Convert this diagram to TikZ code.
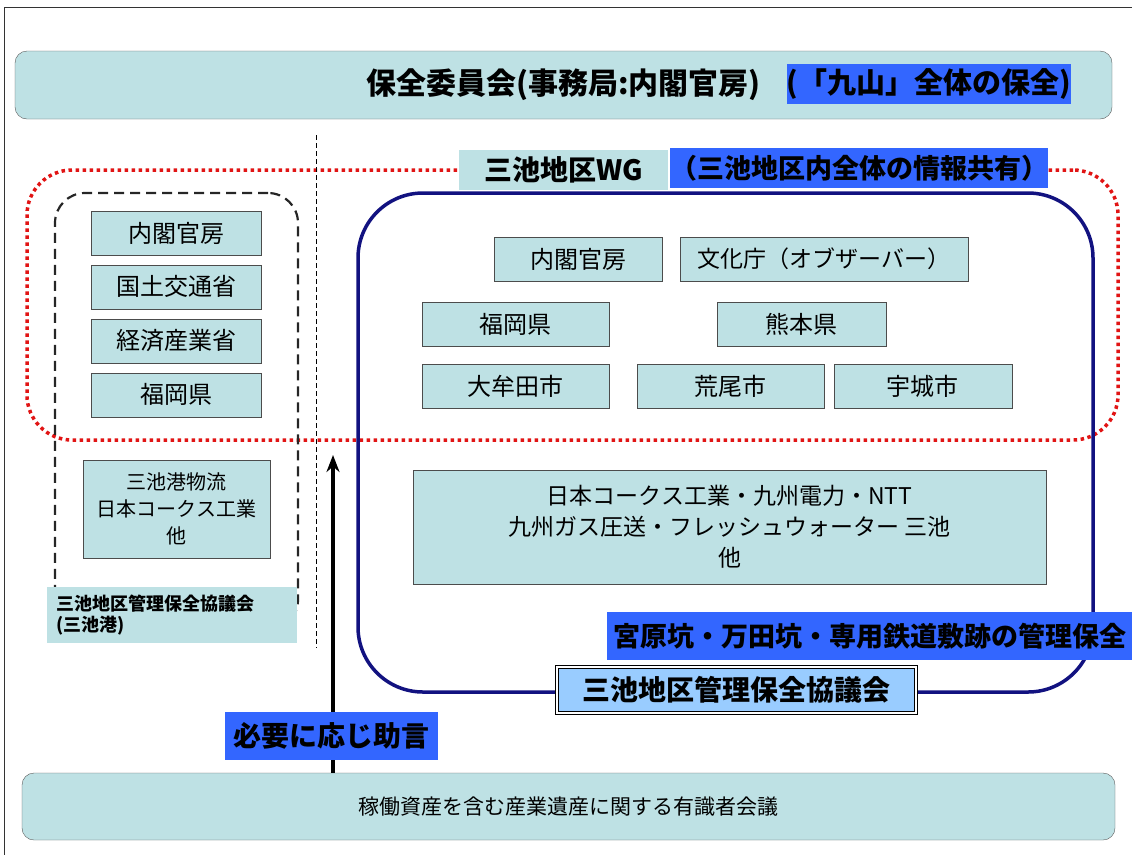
\documentclass[tikz,border=0pt]{standalone}
\usepackage{fontspec}
\setmainfont{Noto Sans CJK JP}
\usetikzlibrary{positioning, arrows.meta}
\definecolor{paleteal}{RGB}{190,225,228}
\definecolor{tagblue}{RGB}{51,102,255}
\definecolor{skyblue}{RGB}{153,204,255}
\definecolor{navyline}{RGB}{18,18,128}
\definecolor{dotred}{RGB}{225,20,20}
\tikzset{
  orgbox/.style={
    draw=black!70, fill=paleteal, inner sep=0pt,
    minimum height=44pt, align=center,
    font=\fontsize{24}{28}\selectfont
  },
  bar/.style={
    draw=black!65, fill=paleteal, rounded corners=12pt, inner sep=0pt,
    minimum width=1097pt, minimum height=68pt
  },
  tagbox/.style={
    fill=tagblue, text=black, inner sep=0pt, minimum height=40pt,
    font=\bfseries\fontsize{28}{32}\selectfont
  },
  frame/.style={inner sep=0pt}
}

\begin{document}
\begin{tikzpicture}[x=1pt, y=-1pt, node distance=9.5pt, >={Stealth[length=17pt,width=13pt]}]
  \useasboundingbox (0,0) rectangle (1132,855);
  \draw[black!80, line width=1pt] (1132,7) -- (4,7) -- (4,855);

  % frames
  \node[frame, draw=dotred, line width=3.5pt, dash pattern=on 3.5pt off 3.5pt,
        rounded corners=45pt, minimum width=1091pt, minimum height=270pt] (wgframe) at (572.5,305) {};
  \node[frame, draw=black!85, line width=2.2pt, dash pattern=on 10pt off 6pt,
        rounded corners=30pt, minimum width=243pt, minimum height=437pt] (portframe) at (176.5,411.5) {};
  \node[frame, draw=navyline, line width=3.5pt,
        rounded corners=65pt, minimum width=735pt, minimum height=499pt] (miikeframe) at (725.5,442.5) {};
  \coordinate (divtop) at (316,135);
  \coordinate (divbot) at (316,648);
  \draw[line width=0.7pt, dash pattern=on 5pt off 3pt] (divtop) -- (divbot);

  % top and bottom
  \node[bar, font=\bfseries\fontsize{30}{34}\selectfont] (committee) at (563.5,85) {保全委員会(事務局:内閣官房)};
  \node[tagbox, minimum width=278pt, font=\bfseries\fontsize{29}{32}\selectfont] (kyusan) at (929,84) {(「九山」全体の保全)};
  \node[bar, minimum width=1093pt, minimum height=67pt, font=\fontsize{21}{26}\selectfont] (experts) at (568.5,806.5) {稼働資産を含む産業遺産に関する有識者会議};

  % WG labels
  \node[tagbox, fill=paleteal, minimum width=209pt] (wgname) at (563.5,170) {三池地区WG};
  \node[tagbox, minimum width=378pt, right=2pt of wgname, yshift=2pt,
        font=\bfseries\fontsize{27}{32}\selectfont] (wgnote) {（三池地区内全体の情報共有）};

  % left column
  \node[orgbox, minimum width=170pt] (lcab) at (176,233) {内閣官房};
  \node[orgbox, minimum width=170pt, below=of lcab] (lmlit) {国土交通省};
  \node[orgbox, minimum width=170pt, below=of lmlit] (lmeti) {経済産業省};
  \node[orgbox, minimum width=170pt, below=of lmeti] (lfuk) {福岡県};
  \node[orgbox, minimum width=187pt, minimum height=98pt,
        font=\fontsize{20}{27}\selectfont] (lfirms) at (176.5,509) {三池港物流\\日本コークス工業\\他};
  \node[frame, fill=paleteal, minimum width=250pt, minimum height=56pt, align=left,
        text width=232pt, font=\bfseries\fontsize{18}{21}\selectfont] (portcouncil) at (172,615)
        {三池地区管理保全協議会\\(三池港)};

  % right side
  \node[orgbox, minimum width=168pt] (rcab) at (578,259) {内閣官房};
  \node[orgbox, minimum width=288pt, font=\fontsize{23}{28}\selectfont] (rbunka) at (824,259) {文化庁（オブザーバー）};
  \node[orgbox, minimum width=187pt] (rfuk) at (515.5,324) {福岡県};
  \node[orgbox, minimum width=169pt] (rkuma) at (801.5,324) {熊本県};
  \node[orgbox, minimum width=187pt] (romuta) at (515.5,386) {大牟田市};
  \node[orgbox, minimum width=187pt, right=28pt of romuta] (rarao) {荒尾市};
  \node[orgbox, minimum width=178pt, right=9pt of rarao] (ruki) {宇城市};
  \node[orgbox, minimum width=633pt, minimum height=114pt,
        font=\fontsize{23}{31}\selectfont] (rfirms) at (729.5,527)
        {日本コークス工業・九州電力・NTT\\九州ガス圧送・フレッシュウォーター 三池\\他};

  \node[tagbox, minimum width=525pt, minimum height=48pt,
        font=\bfseries\fontsize{27}{30}\selectfont] (sites) at (869.5,636) {宮原坑・万田坑・専用鉄道敷跡の管理保全};
  \node[tagbox, fill=skyblue, draw=black, double, double distance=2pt, line width=0.8pt,
        minimum width=359pt, minimum height=46pt] (council) at (736.5,690) {三池地区管理保全協議会};

  % advice
  \coordinate (advtip) at (333,455);
  \draw[->, line width=3.5pt] (experts.north -| advtip) -- (advtip);
  \node[tagbox, minimum width=213pt, minimum height=48pt] (advice) at (331.5,736) {必要に応じ助言};
\end{tikzpicture}
\end{document}
